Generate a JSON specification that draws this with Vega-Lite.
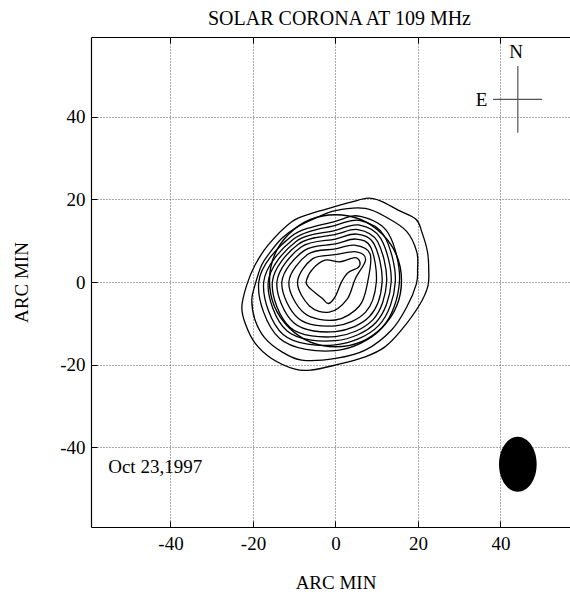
{
  "$schema": "https://vega.github.io/schema/vega-lite/v6.json",
  "width": 479,
  "height": 490,
  "autosize": "none",
  "padding": {"left": 91, "top": 37, "right": 0, "bottom": 68},
  "background": "white",
  "config": {
    "view": {"stroke": null},
    "font": "Liberation Serif",
    "axis": {
      "labelFont": "Liberation Serif", "labelFontSize": 19, "labelColor": "black",
      "titleFont": "Liberation Serif", "titleFontSize": 19, "titleFontWeight": "normal", "titleColor": "black",
      "domainColor": "black", "domainWidth": 1.2,
      "tickColor": "black", "tickSize": -6, "tickWidth": 1,
      "gridColor": "#555", "gridDash": [1, 2], "gridWidth": 1, "gridOpacity": 1
    }
  },
  "title": {
    "text": "SOLAR CORONA AT 109 MHz", "font": "Liberation Serif", "fontSize": 20, "fontWeight": "normal",
    "color": "black", "baseline": "alphabetic", "offset": -8, "anchor": "middle", "dx": 9
  },
  "datasets": {
    "contours": [
      {"c":1,"i":0,"x":7.9,"y":20.3},{"c":1,"i":1,"x":4,"y":19.4},{"c":1,"i":2,"x":0,"y":18.3},{"c":1,"i":3,"x":-5.8,"y":16.6},
      {"c":1,"i":4,"x":-10.6,"y":14.6},{"c":1,"i":5,"x":-16.3,"y":9},{"c":1,"i":6,"x":-19.5,"y":4.1},{"c":1,"i":7,"x":-21.5,"y":-0.7},
      {"c":1,"i":8,"x":-22.7,"y":-6},{"c":1,"i":9,"x":-21.9,"y":-10},{"c":1,"i":10,"x":-19.5,"y":-14.8},{"c":1,"i":11,"x":-15.5,"y":-18.5},
      {"c":1,"i":12,"x":-9.8,"y":-21.1},{"c":1,"i":13,"x":-5.8,"y":-21.3},{"c":1,"i":14,"x":0,"y":-20.1},{"c":1,"i":15,"x":7.2,"y":-18.1},
      {"c":1,"i":16,"x":12,"y":-15.7},{"c":1,"i":17,"x":16,"y":-11.6},{"c":1,"i":18,"x":20.4,"y":-5.5},{"c":1,"i":19,"x":22.4,"y":-1},
      {"c":1,"i":20,"x":22.6,"y":3},{"c":1,"i":21,"x":22.3,"y":7.3},{"c":1,"i":22,"x":20.9,"y":12.2},{"c":1,"i":23,"x":19.5,"y":15.2},
      {"c":1,"i":24,"x":15.2,"y":17.4},{"c":1,"i":25,"x":11,"y":19.6},

      {"c":2,"i":0,"x":7.2,"y":17.8},{"c":2,"i":1,"x":0,"y":17.3},{"c":2,"i":2,"x":-5,"y":15.4},{"c":2,"i":3,"x":-9.5,"y":13.2},
      {"c":2,"i":4,"x":-13,"y":10.6},{"c":2,"i":5,"x":-16,"y":7},{"c":2,"i":6,"x":-17.9,"y":4.1},{"c":2,"i":7,"x":-19.5,"y":-0.7},
      {"c":2,"i":8,"x":-20.3,"y":-4.4},{"c":2,"i":9,"x":-19.5,"y":-9.2},{"c":2,"i":10,"x":-17.1,"y":-13.6},{"c":2,"i":11,"x":-13,"y":-16.9},
      {"c":2,"i":12,"x":-8.2,"y":-18.9},{"c":2,"i":13,"x":0,"y":-18.5},{"c":2,"i":14,"x":7.2,"y":-16.5},{"c":2,"i":15,"x":13.6,"y":-11.6},
      {"c":2,"i":16,"x":17.3,"y":-6},{"c":2,"i":17,"x":19.6,"y":-0.5},{"c":2,"i":18,"x":19.9,"y":3},{"c":2,"i":19,"x":19.7,"y":7.3},
      {"c":2,"i":20,"x":17.3,"y":12.2},{"c":2,"i":21,"x":12.8,"y":15.4},

      {"c":3,"i":0,"x":15.5,"y":0},{"c":3,"i":1,"x":12.8,"y":11.8},{"c":3,"i":2,"x":6,"y":15.9},{"c":3,"i":3,"x":0,"y":14.7},
      {"c":3,"i":4,"x":-10.9,"y":10.9},{"c":3,"i":5,"x":-18.6,"y":0},{"c":3,"i":6,"x":-13.6,"y":-13.6},{"c":3,"i":7,"x":0,"y":-16.6},{"c":3,"i":8,"x":11.2,"y":-11.2},

      {"c":4,"i":0,"x":14.5,"y":0},{"c":4,"i":1,"x":11.8,"y":11.2},{"c":4,"i":2,"x":5.8,"y":14.9},{"c":4,"i":3,"x":0,"y":13.7},
      {"c":4,"i":4,"x":-10.3,"y":10.3},{"c":4,"i":5,"x":-17.4,"y":0},{"c":4,"i":6,"x":-12.7,"y":-12.7},{"c":4,"i":7,"x":0,"y":-15.2},{"c":4,"i":8,"x":10.5,"y":-10.5},

      {"c":5,"i":0,"x":13.5,"y":0},{"c":5,"i":1,"x":11,"y":10.5},{"c":5,"i":2,"x":5.6,"y":13.8},{"c":5,"i":3,"x":0,"y":12.5},
      {"c":5,"i":4,"x":-9.7,"y":9.7},{"c":5,"i":5,"x":-16.3,"y":0},{"c":5,"i":6,"x":-11.8,"y":-11.8},{"c":5,"i":7,"x":0,"y":-14.2},{"c":5,"i":8,"x":9.8,"y":-9.8},

      {"c":6,"i":0,"x":12.4,"y":0},{"c":6,"i":1,"x":10.2,"y":9.8},{"c":6,"i":2,"x":5.4,"y":12.7},{"c":6,"i":3,"x":0,"y":11.5},
      {"c":6,"i":4,"x":-9.1,"y":9.1},{"c":6,"i":5,"x":-15.3,"y":0},{"c":6,"i":6,"x":-11,"y":-11},{"c":6,"i":7,"x":0,"y":-13.2},{"c":6,"i":8,"x":9.1,"y":-9.1},

      {"c":7,"i":0,"x":11.3,"y":0},{"c":7,"i":1,"x":9.4,"y":9.1},{"c":7,"i":2,"x":5.2,"y":11.6},{"c":7,"i":3,"x":0,"y":10.4},
      {"c":7,"i":4,"x":-8.4,"y":8.4},{"c":7,"i":5,"x":-14.2,"y":0},{"c":7,"i":6,"x":-10,"y":-10},{"c":7,"i":7,"x":0,"y":-12},{"c":7,"i":8,"x":8.3,"y":-8.3},

      {"c":8,"i":0,"x":9.9,"y":0},{"c":8,"i":1,"x":8.6,"y":8.3},{"c":8,"i":2,"x":5,"y":10.4},{"c":8,"i":3,"x":0,"y":9.2},
      {"c":8,"i":4,"x":-7.6,"y":7.6},{"c":8,"i":5,"x":-13,"y":0},{"c":8,"i":6,"x":-8.9,"y":-8.9},{"c":8,"i":7,"x":0,"y":-10.6},{"c":8,"i":8,"x":7.3,"y":-7.3},

      {"c":9,"i":0,"x":7.8,"y":0},{"c":9,"i":1,"x":8.4,"y":6.8},{"c":9,"i":2,"x":4.6,"y":8.9},{"c":9,"i":3,"x":0,"y":8},
      {"c":9,"i":4,"x":-6.7,"y":6.7},{"c":9,"i":5,"x":-11.3,"y":0},{"c":9,"i":6,"x":-7.6,"y":-7.5},{"c":9,"i":7,"x":0,"y":-9.2},{"c":9,"i":8,"x":5.8,"y":-5.8},

      {"c":10,"i":0,"x":4.8,"y":0.8},{"c":10,"i":1,"x":7.3,"y":5.4},{"c":10,"i":2,"x":5,"y":7.3},{"c":10,"i":3,"x":0,"y":6.6},
      {"c":10,"i":4,"x":-5.6,"y":5.6},{"c":10,"i":5,"x":-9.2,"y":0},{"c":10,"i":6,"x":-6.3,"y":-5.8},{"c":10,"i":7,"x":-1.5,"y":-7.3},{"c":10,"i":8,"x":2.8,"y":-4.2},

      {"c":11,"i":0,"x":-7,"y":0.5},{"c":11,"i":1,"x":-5.4,"y":3.3},{"c":11,"i":2,"x":-2.5,"y":5.3},{"c":11,"i":3,"x":1.1,"y":4.9},
      {"c":11,"i":4,"x":4.7,"y":5.9},{"c":11,"i":5,"x":5.9,"y":4.9},{"c":11,"i":6,"x":5.5,"y":3.5},{"c":11,"i":7,"x":3.1,"y":2.3},
      {"c":11,"i":8,"x":1.5,"y":0.1},{"c":11,"i":9,"x":-0.1,"y":-3.6},{"c":11,"i":10,"x":-1.7,"y":-5.2},{"c":11,"i":11,"x":-3.3,"y":-3.9},{"c":11,"i":12,"x":-6.6,"y":-1.1}
    ],
    "disk": [{"x": 0, "y": 0.3}],
    "beam": [{"x": 44.2, "y": -44.1}],
    "compass": [{"x": 44.2, "y": 36.1, "x2": 44.2, "y2": 52.3}, {"x": 38.2, "y": 44.2, "x2": 50.1, "y2": 44.2}],
    "notes": [{"x": -55.1, "y": -44.7, "t": "Oct 23,1997"}],
    "north": [{"x": 43.8, "y": 55.6, "t": "N"}],
    "east": [{"x": 36.8, "y": 44.1, "t": "E"}]
  },
  "resolve": {"axis": {"x": "independent"}},
  "layer": [
    {
      "data": {"name": "contours"},
      "mark": {"type": "line", "interpolate": "cardinal-closed", "color": "black", "strokeWidth": 1.3},
      "encoding": {
        "x": {"field": "x", "type": "quantitative", "scale": {"domain": [-59.27, 56.85], "nice": false, "zero": false},
          "axis": {"orient": "bottom", "values": [-40, -20, 0, 20, 40], "title": "ARC MIN", "grid": true,
            "labelExpr": "datum.value < 0 ? '-' + abs(datum.value) : '' + datum.value",
            "labelPadding": 28, "labelBaseline": "alphabetic", "titleX": 244.5, "titleY": 61, "titleBaseline": "alphabetic"}},
        "y": {"field": "y", "type": "quantitative", "scale": {"domain": [-59.3, 59.3], "nice": false, "zero": false},
          "axis": {"orient": "left", "values": [-40, -20, 0, 20, 40], "title": "ARC MIN", "grid": true,
            "labelExpr": "datum.value < 0 ? '-' + abs(datum.value) : '' + datum.value",
            "labelPadding": 12, "labelBaseline": "middle", "titleX": -63.5, "titleY": 245, "titleBaseline": "alphabetic", "titleAngle": -90}},
        "detail": {"field": "c", "type": "nominal"},
        "order": {"field": "i", "type": "quantitative"}
      }
    },
    {
      "data": {"name": "disk"},
      "mark": {"type": "point", "shape": "circle", "size": 17424, "filled": false, "color": "black", "strokeWidth": 1.4, "opacity": 1},
      "encoding": {
        "x": {"field": "x", "type": "quantitative", "scale": {"domain": [-59.27, 56.85], "nice": false, "zero": false},
          "axis": {"orient": "top", "values": [-40, -20, 0, 20, 40], "labels": false, "grid": false, "title": null}},
        "y": {"field": "y", "type": "quantitative", "scale": {"domain": [-59.3, 59.3], "nice": false, "zero": false}}
      }
    },
    {
      "data": {"name": "beam"},
      "mark": {"type": "point", "shape": "M0,-1A0.685,1,0,1,1,0,1A0.685,1,0,1,1,0,-1Z", "size": 3025, "filled": true, "color": "black", "opacity": 1},
      "encoding": {
        "x": {"field": "x", "type": "quantitative", "scale": {"domain": [-59.27, 56.85], "nice": false, "zero": false}, "axis": null},
        "y": {"field": "y", "type": "quantitative", "scale": {"domain": [-59.3, 59.3], "nice": false, "zero": false}}
      }
    },
    {
      "data": {"name": "compass"},
      "mark": {"type": "rule", "color": "#555", "strokeWidth": 1.2},
      "encoding": {
        "x": {"field": "x", "type": "quantitative", "scale": {"domain": [-59.27, 56.85], "nice": false, "zero": false}, "axis": null},
        "x2": {"field": "x2"},
        "y": {"field": "y", "type": "quantitative", "scale": {"domain": [-59.3, 59.3], "nice": false, "zero": false}},
        "y2": {"field": "y2"}
      }
    },
    {
      "data": {"name": "notes"},
      "mark": {"type": "text", "align": "left", "baseline": "middle", "font": "Liberation Serif", "fontSize": 19, "color": "black"},
      "encoding": {
        "x": {"field": "x", "type": "quantitative", "scale": {"domain": [-59.27, 56.85], "nice": false, "zero": false}, "axis": null},
        "y": {"field": "y", "type": "quantitative", "scale": {"domain": [-59.3, 59.3], "nice": false, "zero": false}},
        "text": {"field": "t"}
      }
    },
    {
      "data": {"name": "north"},
      "mark": {"type": "text", "align": "center", "baseline": "middle", "font": "Liberation Serif", "fontSize": 19, "color": "black"},
      "encoding": {
        "x": {"field": "x", "type": "quantitative", "scale": {"domain": [-59.27, 56.85], "nice": false, "zero": false}, "axis": null},
        "y": {"field": "y", "type": "quantitative", "scale": {"domain": [-59.3, 59.3], "nice": false, "zero": false}},
        "text": {"field": "t"}
      }
    },
    {
      "data": {"name": "east"},
      "mark": {"type": "text", "align": "right", "baseline": "middle", "font": "Liberation Serif", "fontSize": 19, "color": "black"},
      "encoding": {
        "x": {"field": "x", "type": "quantitative", "scale": {"domain": [-59.27, 56.85], "nice": false, "zero": false}, "axis": null},
        "y": {"field": "y", "type": "quantitative", "scale": {"domain": [-59.3, 59.3], "nice": false, "zero": false}},
        "text": {"field": "t"}
      }
    }
  ]
}
